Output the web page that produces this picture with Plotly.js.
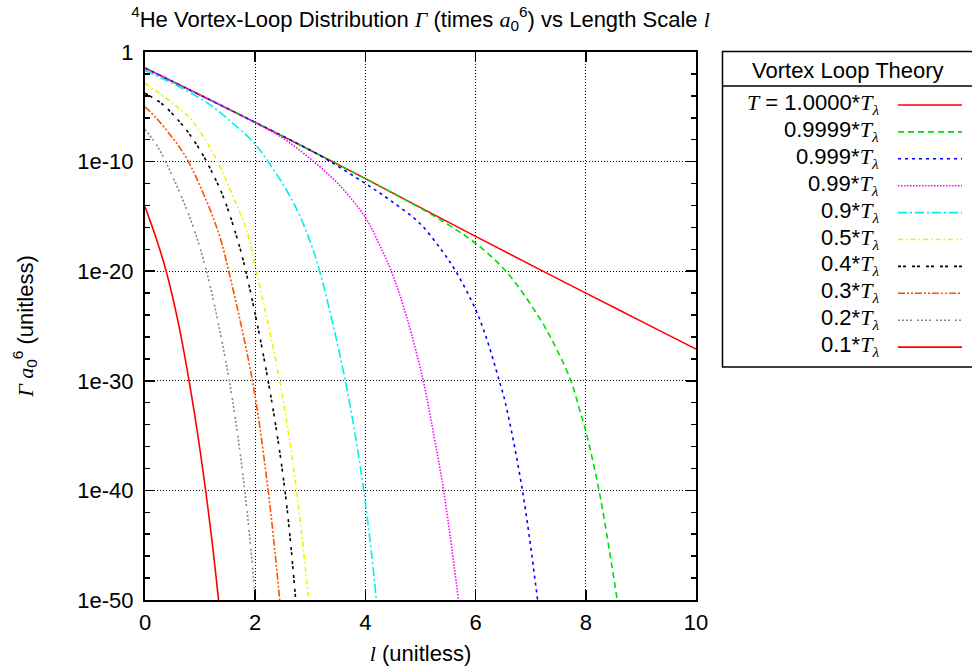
<!DOCTYPE html>
<html>
<head>
<meta charset="utf-8">
<script src="https://cdn.plot.ly/plotly-3.0.1.min.js"></script>
<style>
  html, body { margin: 0; padding: 0; background: #ffffff; }
  #chart { width: 972px; height: 671px; }
</style>
</head>
<body>
<div id="chart"></div>
<script>
// Vortex-loop distribution Γ·a0^6 versus loop length l, one curve per temperature T/Tλ

const seriesLabels = ['1.0000', '0.9999', '0.999', '0.99', '0.9', '0.5', '0.4', '0.3', '0.2', '0.1'];

// T = 1.0000 Tλ
const lenT10000 = [0, 1, 2, 3, 4, 5, 6, 7, 8, 9, 10];
const gamT10000 = [3.4e-2, 1.2e-4, 3.8e-7, 1.1e-9, 2.8e-12, 6.3e-15, 1.5e-17, 3.8e-20, 1.0e-22, 2.8e-25, 7.9e-28];

// T = 0.9999 Tλ
const lenT09999 = [0, 1, 2, 3, 4, 4.5, 5, 5.5, 6, 6.55, 7.15, 7.46, 7.73, 7.88, 8.0, 8.24, 8.57];
const gamT09999 = [3.4e-2, 1.2e-4, 3.8e-7, 1.1e-9, 2.8e-12, 1.3e-13, 5.6e-15, 1.8e-16, 3.5e-18, 1e-20, 6.3e-25, 1e-27, 1e-30, 3.2e-33, 2.5e-35, 1e-40, 1e-50];

// T = 0.999 Tλ
const lenT0999 = [0, 1, 2, 3, 3.35, 4, 4.44, 4.98, 5.4, 5.64, 6, 6.19, 6.43, 6.54, 6.85, 7.125];
const gamT0999 = [3.4e-2, 1.2e-4, 3.8e-7, 1.1e-9, 1.1e-10, 1.0e-12, 3.2e-14, 2.5e-16, 6.3e-19, 1e-20, 3.2e-24, 1e-26, 1e-30, 1e-32, 1e-40, 1e-50];

// T = 0.99 Tλ
const lenT099 = [0, 1, 2, 2.5, 3.0, 3.5, 4.0, 4.23, 4.47, 4.75, 5.05, 5.25, 5.42, 5.69];
const gamT099 = [3.4e-2, 1.2e-4, 3.5e-7, 1.4e-8, 1.8e-10, 1e-12, 7.9e-16, 5.0e-18, 1e-20, 6.3e-25, 1e-30, 6.3e-36, 1e-40, 1e-50];

// T = 0.9 Tλ
const lenT09 = [0, 0.51, 1.117, 1.5, 1.96, 2.235, 2.69, 2.99, 3.17, 3.635, 3.97, 4.2];
const gamT09 = [2.0e-2, 1.26e-3, 2.5e-5, 7.9e-7, 6.3e-9, 1e-10, 2.0e-14, 6.3e-18, 1e-20, 1e-30, 1e-40, 1e-50];

// T = 0.5 Tλ
const lenT05 = [0, 0.51, 0.815, 1.0, 1.21, 1.36, 1.6, 1.84, 2.02, 2.445, 2.75, 2.97];
const gamT05 = [1.4e-3, 2.0e-5, 8.7e-7, 5.0e-8, 1.1e-9, 3.4e-11, 6.3e-14, 6.3e-17, 1e-20, 1e-30, 1e-40, 1e-50];

// T = 0.4 Tλ
const lenT04 = [0, 0.30, 0.634, 0.815, 1.0, 1.18, 1.42, 1.66, 1.83, 2.235, 2.54, 2.735];
const gamT04 = [1.7e-4, 2.0e-5, 4.0e-7, 2.8e-8, 1.1e-9, 2.5e-11, 6.3e-14, 1.6e-17, 1e-20, 1e-30, 1e-40, 1e-50];

// T = 0.3 Tλ
const lenT03 = [0, 0.21, 0.51, 0.755, 1.117, 1.36, 1.52, 1.95, 2.235, 2.445];
const gamT03 = [1e-5, 8.7e-7, 1.26e-8, 2.0e-10, 2.5e-14, 1.26e-17, 1e-20, 1e-30, 1e-40, 1e-50];

// T = 0.2 Tλ
const lenT02 = [0, 0.15, 0.30, 0.634, 0.875, 1.117, 1.53, 1.81, 2.005];
const gamT02 = [8.7e-8, 9.1e-9, 5.6e-10, 1.3e-13, 1.1e-16, 1e-20, 1e-30, 1e-40, 1e-50];

// T = 0.1 Tλ
const lenT01 = [0, 0.21, 0.385, 0.6, 0.80, 0.96, 1.10, 1.22, 1.335];
const gamT01 = [7.4e-15, 7.9e-18, 1e-20, 2.5e-25, 1e-30, 1e-35, 1e-40, 1.6e-45, 1e-50];

// axis ticks
const xTickVals = [0, 2, 4, 6, 8, 10];
const yTickVals = [1, 1e-10, 1e-20, 1e-30, 1e-40, 1e-50];
const yTickText = ['1', '1e-10', '1e-20', '1e-30', '1e-40', '1e-50'];
const yMinorVals = [1e-2, 1e-4, 1e-6, 1e-8, 1e-12, 1e-14, 1e-16, 1e-18, 1e-22, 1e-24, 1e-26, 1e-28,
                    1e-32, 1e-34, 1e-36, 1e-38, 1e-42, 1e-44, 1e-46, 1e-48];

const xs = [lenT10000, lenT09999, lenT0999, lenT099, lenT09, lenT05, lenT04, lenT03, lenT02, lenT01];
const ys = [gamT10000, gamT09999, gamT0999, gamT099, gamT09, gamT05, gamT04, gamT03, gamT02, gamT01];

// gnuplot-like line styles
const styles = [
  { color: '#ff0000', dash: 'solid' },
  { color: '#00dd00', dash: '6px,4px' },
  { color: '#0000ff', dash: '3px,4px' },
  { color: '#ff00ff', dash: '1.5px,1.5px' },
  { color: '#00eeee', dash: '9px,3px,2px,3px' },
  { color: '#f0f000', dash: '5px,3px,1.5px,3px' },
  { color: '#000000', dash: '3px,2px,3px,6px' },
  { color: '#ff5000', dash: '7px,2px,2px,2px,2px,2px' },
  { color: '#888888', dash: '2px,2px,2px,2px,2px,2px,2px,5px' },
  { color: '#ff0000', dash: 'solid' }
];

const FS = 22;
const serif = "font-family:'Liberation Serif','DejaVu Serif',serif";
const T = `<span style="${serif}"><i>T</i></span>`;
const Tl = `${T}<sub><span style="${serif}"><i>λ</i></span></sub>`;

const traces = xs.map((x, i) => ({
  x: x,
  y: ys[i],
  type: 'scatter',
  mode: 'lines',
  name: seriesLabels[i],
  line: { color: styles[i].color, dash: styles[i].dash, width: 1.6, shape: 'spline', smoothing: 1.0 },
  hoverinfo: 'skip',
  showlegend: false
}));

// plot-area geometry (px) used for the boxed key to the right
const W = 972, H = 671;
const M = { l: 145, r: 276, t: 52, b: 71 };
const pw = W - M.l - M.r, ph = H - M.t - M.b;
const px = v => (v - M.l) / pw;
const py = v => (H - M.b - v) / ph;

const keyLeft = 722.5, keyRight = 990, keyTop = 51.5, keySep = 86, keyBottom = 367;
const rowY0 = 105, rowDy = 26.9;
const shapes = [
  { type: 'rect', xref: 'paper', yref: 'paper', x0: px(keyLeft), x1: px(keyRight), y0: py(keyBottom), y1: py(keyTop),
    line: { color: '#000', width: 1.5 } },
  { type: 'line', xref: 'paper', yref: 'paper', x0: px(keyLeft), x1: px(keyRight), y0: py(keySep), y1: py(keySep),
    line: { color: '#000', width: 1.5 } }
];
const annotations = [
  { xref: 'paper', yref: 'paper', x: px(848), y: py(70), xanchor: 'center', yanchor: 'middle', showarrow: false,
    text: 'Vortex Loop Theory', font: { size: FS, color: '#000' } }
];
seriesLabels.forEach((lab, i) => {
  const yRow = rowY0 + i * rowDy;
  shapes.push({ type: 'line', xref: 'paper', yref: 'paper', x0: px(898), x1: px(962), y0: py(yRow), y1: py(yRow),
    line: { color: styles[i].color, dash: styles[i].dash, width: 1.6 } });
  const txt = (i === 0 ? `${T} = ` : '') + lab + '*' + Tl;
  annotations.push({ xref: 'paper', yref: 'paper', x: px(881), y: py(yRow - 1), xanchor: 'right', yanchor: 'middle',
    showarrow: false, text: txt, font: { size: FS, color: '#000' } });
});

const axisCommon = {
  showline: true, linecolor: '#000', linewidth: 2, mirror: 'allticks',
  ticks: 'inside', ticklen: 10, tickwidth: 1.5, tickcolor: '#000',
  showgrid: true, gridcolor: '#000', griddash: '1px,2px', gridwidth: 1,
  zeroline: false, tickfont: { size: FS, color: '#000' }
};

const layout = {
  width: W, height: H,
  margin: M,
  paper_bgcolor: '#fff', plot_bgcolor: '#fff',
  font: { family: "'Liberation Sans', Arial, sans-serif", color: '#000', size: FS },
  title: {
    text: `<sup>4</sup>He Vortex-Loop Distribution <span style="${serif}"><i>Γ</i></span> (times <span style="${serif}"><i>a</i></span><sub>0</sub><sup>6</sup>) vs Length Scale <span style="${serif}"><i>l</i></span>`,
    xref: 'paper', x: 0.5, xanchor: 'center', y: 1 - 19 / H, yanchor: 'middle',
    font: { size: FS, color: '#000' }
  },
  xaxis: Object.assign({}, axisCommon, {
    range: [0, 10], tickmode: 'array', tickvals: xTickVals, ticktext: xTickVals.map(String),
    ticklabelstandoff: 2,
    title: { text: `<span style="${serif}"><i>l</i></span> (unitless)`, standoff: 11, font: { size: FS } }
  }),
  yaxis: Object.assign({}, axisCommon, {
    type: 'log', range: [-50, 0], tickmode: 'array', tickvals: yTickVals, ticktext: yTickText,
    ticklabelstandoff: 5,
    minor: { tickmode: 'array', tickvals: yMinorVals, ticks: 'inside', ticklen: 5, tickwidth: 1.5, tickcolor: '#000', showgrid: false },
    title: { text: `<span style="${serif}"><i>Γ a</i></span><sub>0</sub><sup>6</sup> (unitless)`, standoff: 38, font: { size: FS } }
  }),
  shapes: shapes,
  annotations: annotations,
  showlegend: false
};

Plotly.newPlot('chart', traces, layout, { displayModeBar: false, staticPlot: true });
</script>
</body>
</html>
